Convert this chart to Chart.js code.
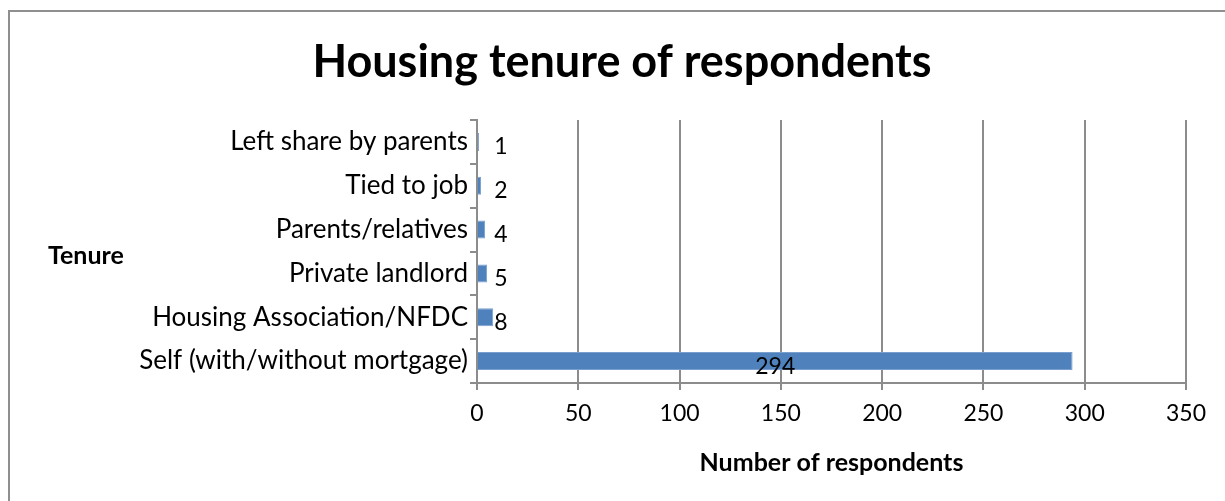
<!DOCTYPE html>
<html>
<head>
<meta charset="utf-8">
<script src="https://cdn.jsdelivr.net/npm/chart.js@4"></script>
<style>
  html, body { margin: 0; padding: 0; background: #fff; }
  #wrap { width: 1225px; height: 501px; }
</style>
</head>
<body>
<div id="wrap"><canvas id="tenureChart" width="1225" height="501"></canvas></div>
<script>
// Housing tenure data
const categories = ['Left share by parents', 'Tied to job', 'Parents/relatives', 'Private landlord', 'Housing Association/NFDC', 'Self (with/without mortgage)'];
const respondents = [1, 2, 4, 5, 8, 294];
const xTicks = [0, 50, 100, 150, 200, 250, 300, 350];

const FONT = 'Lato, "Open Sans", sans-serif';
const GRID = '#8c8c8c';

// outer frame (only top + left edge visible in the picture)
const framePlugin = {
    id: 'frame',
    beforeDraw(chart) {
        const c = chart.ctx;
        c.save();
        c.strokeStyle = '#8f8f8f';
        c.lineWidth = 2;
        c.beginPath();
        c.moveTo(9, 501);
        c.lineTo(9, 11);
        c.lineTo(1225, 11);
        c.stroke();
        c.restore();
    }
};

// title, horizontal y axis title + value labels
const labelPlugin = {
    id: 'labels',
    afterDatasetsDraw(chart) {
        const c = chart.ctx;
        c.save();
        c.fillStyle = '#000';
        c.textBaseline = 'middle';

        c.font = 'bold 45px ' + FONT;
        c.textAlign = 'center';
        c.fillText('Housing tenure of respondents', 622, 62);

        c.font = 'bold 25px ' + FONT;
        c.textAlign = 'left';
        c.fillText('Tenure', 48, 256);

        c.font = '23px ' + FONT;
        c.textAlign = 'center';
        const meta = chart.getDatasetMeta(0);
        meta.data.forEach((bar, i) => {
            const mid = (bar.x + bar.base) / 2;
            const x = Math.max(mid, bar.base + 23);
            c.fillText(String(respondents[i]), x, bar.y + 5);
        });
        c.restore();
    }
};

new Chart(document.getElementById('tenureChart'), {
    type: 'bar',
    data: {
        labels: categories,
        datasets: [{
            data: respondents,
            backgroundColor: '#4f81bd',
            borderColor: '#7a9fcf',
            borderWidth: 1,
            barPercentage: 0.41,
            categoryPercentage: 1
        }]
    },
    options: {
        indexAxis: 'y',
        responsive: false,
        animation: false,
        devicePixelRatio: 1,
        layout: { padding: { left: 8, right: 39, top: 120, bottom: 0 } },
        plugins: {
            legend: { display: false },
            tooltip: { enabled: false },
            title: { display: false }
        },
        scales: {
            x: {
                min: 0,
                max: 350,
                afterBuildTicks(scale) {
                    scale.ticks = xTicks.map(v => ({ value: v }));
                },
                afterFit(scale) { scale.height = 118; },
                grid: { color: GRID, lineWidth: 2, tickLength: 7, tickColor: GRID },
                border: { color: GRID, width: 2 },
                ticks: { color: '#000', font: { family: FONT, size: 23 }, padding: 10 },
                title: {
                    display: true,
                    text: 'Number of respondents',
                    color: '#000',
                    font: { family: FONT, size: 25, weight: 'bold' },
                    padding: { top: 0, bottom: 23 }
                }
            },
            y: {
                afterFit(scale) { scale.width = 477 - 8; },
                grid: { offset: true, drawOnChartArea: false, tickLength: 7, tickColor: GRID, lineWidth: 2 },
                border: { color: GRID, width: 2 },
                ticks: { color: '#000', font: { family: FONT, size: 26 }, padding: 2 }
            }
        }
    },
    plugins: [framePlugin, labelPlugin]
});
</script>
</body>
</html>
